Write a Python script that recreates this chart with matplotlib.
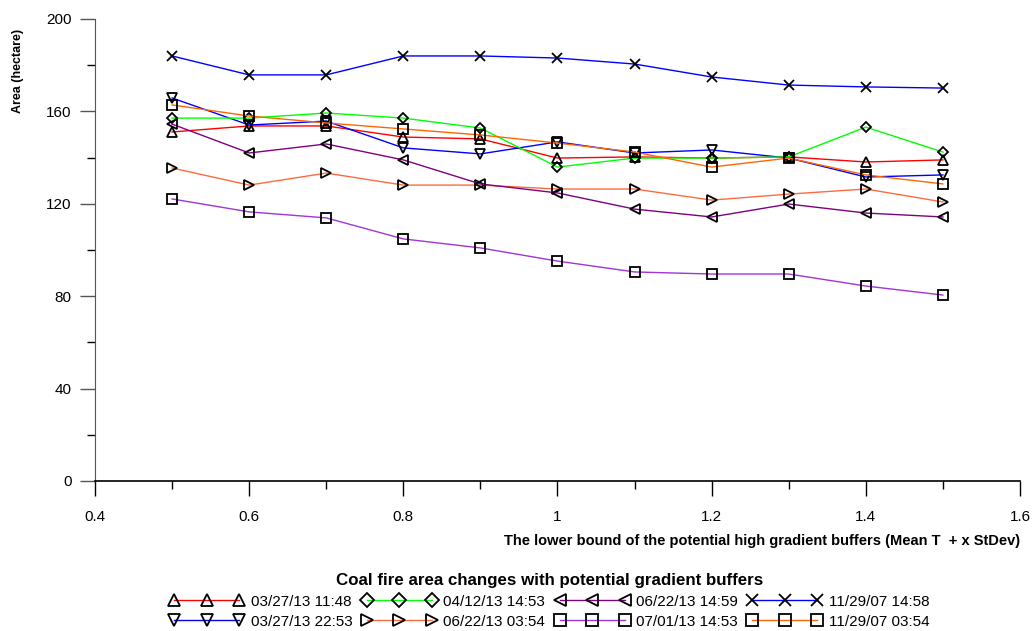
import matplotlib
matplotlib.use('Agg')
from matplotlib import pyplot as plt
from matplotlib.ticker import MultipleLocator, FuncFormatter

plt.rcParams['font.family'] = ['Liberation Sans', 'DejaVu Sans']

x = [0.5, 0.6, 0.7, 0.8, 0.9, 1.0, 1.1, 1.2, 1.3, 1.4, 1.5]

a_0327_1148 = [151.1, 153.7, 153.7, 148.9, 148.1, 139.8, 140.3, 139.8, 140.3, 138.1, 139.0]
a_0327_2253 = [165.8, 154.1, 155.8, 144.2, 141.6, 146.8, 142.0, 143.3, 139.8, 131.6, 132.5]
a_0412_1453 = [157.1, 157.1, 159.3, 157.1, 152.8, 135.9, 139.8, 139.8, 140.3, 153.2, 142.4]
a_0622_0354 = [135.5, 128.1, 133.3, 128.1, 128.1, 126.4, 126.4, 121.6, 124.2, 126.4, 120.8]
a_0622_1459 = [154.5, 142.0, 145.9, 139.0, 128.6, 124.7, 117.7, 114.3, 119.9, 116.0, 114.3]
a_0701_1453 = [122.1, 116.5, 113.9, 104.8, 100.9, 95.2, 90.5, 89.6, 89.6, 84.4, 80.5]
a_1129_1458 = [184.0, 175.8, 175.8, 184.0, 184.0, 183.1, 180.5, 174.9, 171.4, 170.6, 170.1]
a_1129_0354 = [162.8, 158.0, 155.0, 152.4, 149.8, 146.3, 142.4, 135.9, 139.8, 132.5, 128.6]

# order is column-wise so the legend reads like the original (4 columns, 2 rows)
series = [
    ('03/27/13 11:48', a_0327_1148, '#FF0000', '^'),
    ('03/27/13 22:53', a_0327_2253, '#0000FF', 'v'),
    ('04/12/13 14:53', a_0412_1453, '#00FF00', 'D'),
    ('06/22/13 03:54', a_0622_0354, '#FF6A3D', '>'),
    ('06/22/13 14:59', a_0622_1459, '#800080', '<'),
    ('07/01/13 14:53', a_0701_1453, '#A035D8', 's'),
    ('11/29/07 14:58', a_1129_1458, '#0000FF', 'x'),
    ('11/29/07 03:54', a_1129_0354, '#FF6600', 's'),
]

fig = plt.figure(figsize=(10.35, 6.31), dpi=100)
ax = fig.add_axes([95 / 1035, 150 / 631, 925 / 1035, 462 / 631])

for label, vals, color, marker in series:
    ms = 5.5 if marker == 'D' else 7
    ax.plot(x, vals, color=color, lw=1.0, marker=marker, ms=ms,
            mfc='none', mec='black', mew=1.3, label=label)

ax.set_xlim(0.4, 1.6)
ax.set_ylim(0, 200)
ax.spines['top'].set_visible(False)
ax.spines['right'].set_visible(False)
ax.spines['left'].set_color('#555555')
ax.spines['bottom'].set_linewidth(1.2)

ax.xaxis.set_major_locator(MultipleLocator(0.2))
ax.xaxis.set_minor_locator(MultipleLocator(0.1))
ax.yaxis.set_major_locator(MultipleLocator(40))
ax.yaxis.set_minor_locator(MultipleLocator(20))
ax.xaxis.set_major_formatter(FuncFormatter(lambda v, p: ('%g' % round(v, 2))))
ax.tick_params(which='major', length=11, width=1, labelsize=11, pad=6)
ax.tick_params(which='minor', length=6, width=1)
ax.tick_params(axis='x', which='major', pad=10)
ax.tick_params(axis='y', colors='#555555', labelcolor='black')

ax.set_xlabel('The lower bound of the potential high gradient buffers (Mean T  + x StDev)',
              fontsize=10.5, fontweight='bold', ha='right', x=1.0, labelpad=7)
ax.set_ylabel('Area (hectare)', fontsize=9, fontweight='bold')
ax.yaxis.set_label_coords(-0.0768, 0.887)

leg = fig.legend(loc='center', bbox_to_anchor=(0.531, 0.0475), ncol=4, frameon=False,
                 numpoints=3, handlelength=4.85, markerscale=1.3, fontsize=11,
                 columnspacing=0.65, handletextpad=0.45, labelspacing=0.4,
                 title='Coal fire area changes with potential gradient buffers',
                 title_fontproperties={'weight': 'bold', 'size': 12.2})

fig.savefig('out.png', dpi=100)
